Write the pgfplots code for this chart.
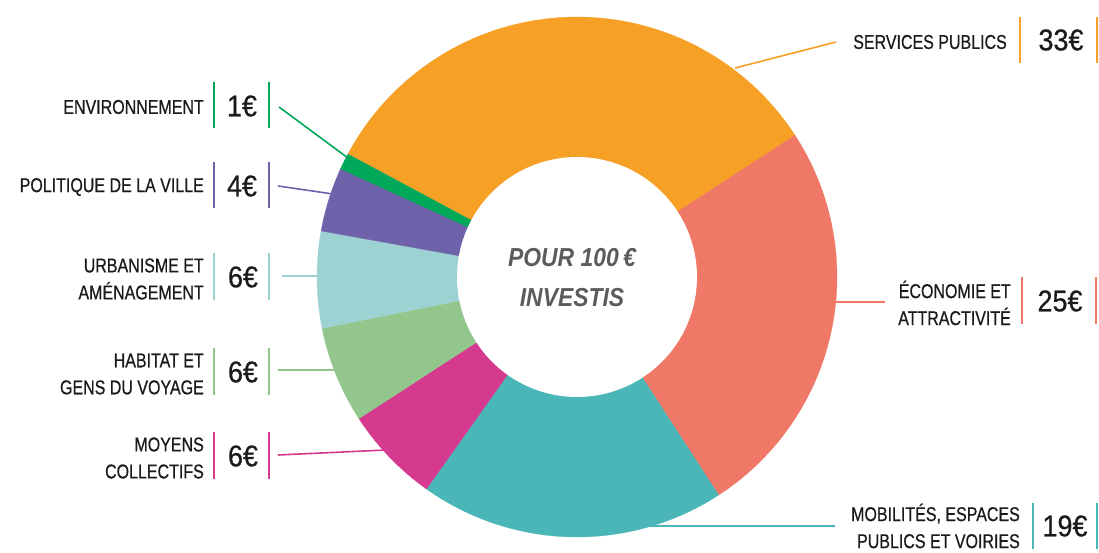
\documentclass[border=0pt]{standalone}
\usepackage{pgfplots}
\pgfplotsset{compat=1.18}
\usepackage{pgfplotstable}
\usepackage{fontspec}
\setmainfont{Liberation Sans}
\newfontfamily\narrowfont{Liberation Sans}[FakeStretch=0.8, FakeBold=0.6]
\newfontfamily\numfont{Liberation Sans}[FakeStretch=0.9, FakeBold=0.6]
\newfontfamily\centerfont{Liberation Sans}[FakeStretch=0.88]

\definecolor{slice0}{HTML}{F6A026}% services publics
\definecolor{slice1}{HTML}{EF7866}% economie
\definecolor{slice2}{HTML}{4AB6B7}% mobilites
\definecolor{slice3}{HTML}{D53A8F}% moyens collectifs
\definecolor{slice4}{HTML}{92C68C}% habitat
\definecolor{slice5}{HTML}{9DD2D2}% urbanisme
\definecolor{slice6}{HTML}{6E62AA}% politique de la ville
\definecolor{slice7}{HTML}{00A85A}% environnement
\definecolor{centergray}{HTML}{5C5C5C}
\definecolor{labeltext}{HTML}{1A1A1A}

% euros for 100 invested, clockwise from the top-left
\pgfplotstableread{
value
33
25
19
6
6
6
4
1
}\budget

\tikzset{
  lab/.style={anchor=east, align=right, text=labeltext, inner sep=0pt,
    font=\narrowfont\fontsize{20}{27}\selectfont},
  num/.style={text=labeltext, font=\numfont\fontsize{30}{32}\selectfont},
}

\begin{document}
\begin{tikzpicture}
\xdef\cumang{151.8}
\foreach \i in {0,...,7}{%
  \pgfplotstablegetelem{\i}{value}\of\budget
  \pgfmathsetmacro\endang{\cumang-3.6*\pgfplotsretval}%
  \expandafter\xdef\csname sa\i\endcsname{\cumang}%
  \expandafter\xdef\csname ea\i\endcsname{\endang}%
  \xdef\cumang{\endang}%
}
\begin{axis}[
  width=1099pt, height=552pt, scale only axis,
  xmin=0, xmax=1099, ymin=0, ymax=552,
  hide axis, clip=false,
]
% leader lines
\draw[slice0, line width=1.6pt] (axis cs:735,{552-68}) -- (axis cs:836,{552-42});
\draw[slice7, line width=1.6pt] (axis cs:279,{552-107}) -- (axis cs:348,{552-158});
\draw[slice6, line width=1.6pt] (axis cs:278,{552-186}) -- (axis cs:333,{552-194});
\draw[slice5, line width=1.6pt] (axis cs:282,{552-276}) -- (axis cs:320,{552-276});
\draw[slice4, line width=1.6pt] (axis cs:278,{552-370}) -- (axis cs:336,{552-370});
\draw[slice3, line width=1.6pt] (axis cs:278,{552-455}) -- (axis cs:386,{552-450});
\draw[slice1, line width=1.6pt] (axis cs:835,{552-302}) -- (axis cs:885,{552-302});
\draw[slice2, line width=1.6pt] (axis cs:645,{552-526}) -- (axis cs:835,{552-526});

% slices
\pgfplotsinvokeforeach{0,...,7}{%
  \edef\temp{\noexpand\addplot[fill=slice#1, draw=slice#1, line width=0.3pt,
    domain=\csname ea#1\endcsname:\csname sa#1\endcsname, samples=90]
    ({577+260*cos(x)},{275+260*sin(x)}) -- (axis cs:577,275) -- cycle;}%
  \temp
}
% hole
\addplot[fill=white, draw=none, domain=0:360, samples=180]
  ({577+120*cos(x)},{275+120*sin(x)}) -- cycle;

% centre text
\node[font=\centerfont\fontsize{26}{40}\selectfont\bfseries\itshape, text=centergray, align=center]
  at (axis cs:572,{552-278}) {POUR 100\,€\\INVESTIS};

% left labels
\node[lab] at (axis cs:204,{552-107}) {ENVIRONNEMENT};
\node[lab] at (axis cs:204,{552-187}) {POLITIQUE DE LA VILLE};
\node[lab] at (axis cs:204,{552-279}) {URBANISME ET\\AMÉNAGEMENT};
\node[lab] at (axis cs:204,{552-374}) {HABITAT ET\\GENS DU VOYAGE};
\node[lab] at (axis cs:204,{552-458}) {MOYENS\\COLLECTIFS};
% right labels
\node[lab] at (axis cs:1007,{552-42}) {SERVICES PUBLICS};
\node[lab] at (axis cs:1011,{552-303}) {ÉCONOMIE ET\\ATTRACTIVITÉ};
\node[lab] at (axis cs:1020,{552-526}) {MOBILITÉS, ESPACES\\PUBLICS ET VOIRIES};

% value boxes: bars and numbers
\draw[slice7, line width=1.6pt] (axis cs:214,{552-82}) -- (axis cs:214,{552-128}) (axis cs:269,{552-82}) -- (axis cs:269,{552-128});
\node[num] at (axis cs:242,{552-106}) {1€};
\draw[slice6, line width=1.6pt] (axis cs:214,{552-162}) -- (axis cs:214,{552-208}) (axis cs:269,{552-162}) -- (axis cs:269,{552-208});
\node[num] at (axis cs:242,{552-186}) {4€};
\draw[slice5, line width=1.6pt] (axis cs:214,{552-253}) -- (axis cs:214,{552-300}) (axis cs:269,{552-253}) -- (axis cs:269,{552-300});
\node[num] at (axis cs:243,{552-277}) {6€};
\draw[slice4, line width=1.6pt] (axis cs:214,{552-348}) -- (axis cs:214,{552-395}) (axis cs:269,{552-348}) -- (axis cs:269,{552-395});
\node[num] at (axis cs:243,{552-372}) {6€};
\draw[slice3, line width=1.6pt] (axis cs:214,{552-432}) -- (axis cs:214,{552-479}) (axis cs:269,{552-432}) -- (axis cs:269,{552-479});
\node[num] at (axis cs:243,{552-456}) {6€};
\draw[slice0, line width=1.6pt] (axis cs:1020,{552-17}) -- (axis cs:1020,{552-63}) (axis cs:1097,{552-17}) -- (axis cs:1097,{552-63});
\node[num] at (axis cs:1061,{552-40}) {33€};
\draw[slice1, line width=1.6pt] (axis cs:1022,{552-277}) -- (axis cs:1022,{552-324}) (axis cs:1096,{552-277}) -- (axis cs:1096,{552-324});
\node[num] at (axis cs:1060,{552-301}) {25€};
\draw[slice2, line width=1.6pt] (axis cs:1033,{552-503}) -- (axis cs:1033,{552-549}) (axis cs:1097,{552-503}) -- (axis cs:1097,{552-549});
\node[num] at (axis cs:1065,{552-526}) {19€};
\end{axis}
\pgfresetboundingbox
\path (current axis.south west) rectangle (current axis.north east);
\end{tikzpicture}
\end{document}
